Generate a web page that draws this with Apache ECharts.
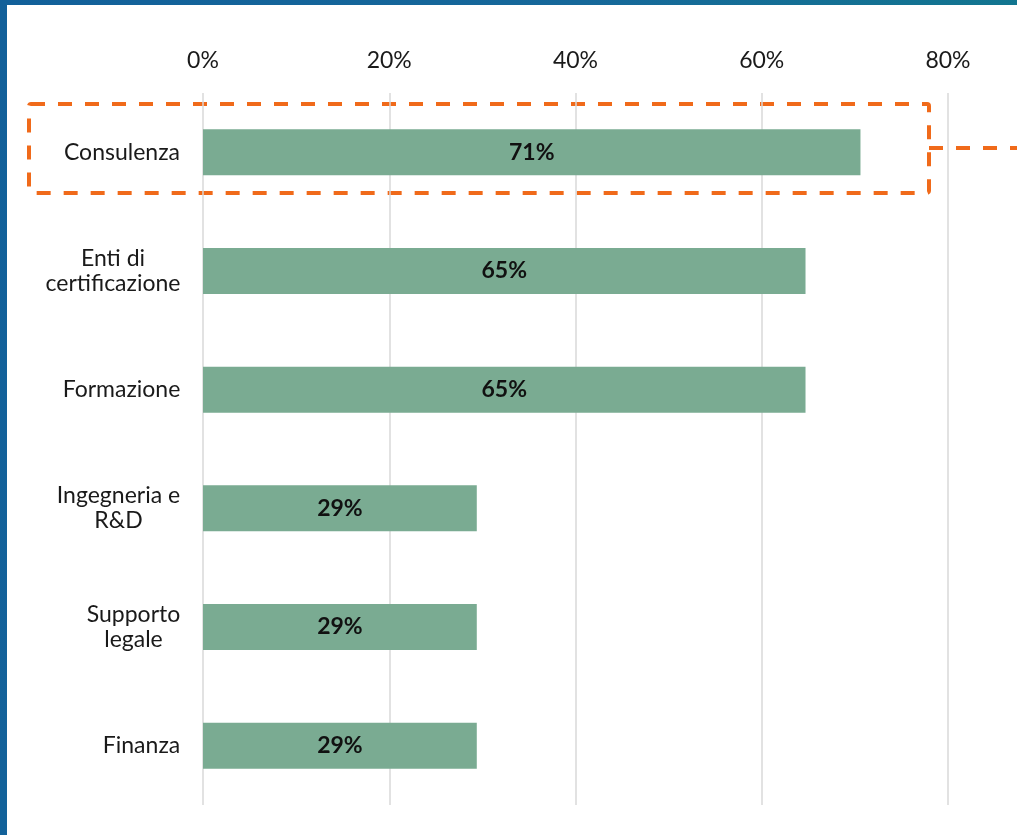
<!DOCTYPE html>
<html>
<head>
<meta charset="utf-8">
<style>
  html, body { margin: 0; padding: 0; width: 1017px; height: 835px; overflow: hidden; }
  body { background: linear-gradient(100deg, #12609a 0%, #16689a 50%, #117a8c 100%); position: relative; }
  #panel { position: absolute; left: 7px; top: 5px; width: 1010px; height: 830px; background: #fff; }
  #chart { position: absolute; left: 0; top: 0; width: 1017px; height: 835px; }
</style>
</head>
<body>
<div id="panel"></div>
<div id="chart"></div>
<script src="https://cdn.jsdelivr.net/npm/echarts@6/dist/echarts.min.js"></script>
<script>
const categories = ['Consulenza', 'Enti di\ncertificazione', 'Formazione', 'Ingegneria e\nR&D', 'Supporto\nlegale', 'Finanza']
const values = [70.6, 64.7, 64.7, 29.4, 29.4, 29.4]
const tickMax = 80
const tickStep = 20

const font = 'Lato, "Open Sans", sans-serif'
const fontSize = 23

// multi-line labels: block right-aligned, lines centred inside it (like the original)
const ctx = document.createElement('canvas').getContext('2d')
ctx.font = fontSize + 'px ' + font
const rich = {}
categories.forEach((c, i) => {
  const w = Math.max(...c.split('\n').map(l => ctx.measureText(l).width))
  rich['l' + i] = { width: Math.ceil(w) + 1, align: 'center', fontSize: fontSize, fontFamily: font, color: '#1a1a1a', lineHeight: 25 }
})

const chart = echarts.init(document.getElementById('chart'))

chart.setOption({
  backgroundColor: 'transparent',
  animation: false,
  grid: {
    left: 203,
    right: 69,
    top: 93,
    bottom: 30
  },
  xAxis: {
    type: 'value',
    position: 'top',
    min: 0,
    max: tickMax,
    interval: tickStep,
    axisLine: { show: false },
    axisTick: { show: false },
    axisLabel: {
      formatter: '{value}%',
      color: '#1a1a1a',
      fontSize: fontSize,
      fontFamily: font,
      margin: 21
    },
    splitLine: { lineStyle: { color: '#d9d9d9', width: 1.5 } }
  },
  yAxis: {
    type: 'category',
    inverse: true,
    data: categories,
    axisLine: { show: false },
    axisTick: { show: false },
    axisLabel: {
      color: '#1a1a1a',
      fontSize: fontSize,
      fontFamily: font,
      lineHeight: 25,
      align: 'right',
      margin: 22,
      rich: rich,
      formatter: (v, i) => v.split('\n').map(l => '{l' + i + '|' + l + '}').join('\n')
    }
  },
  series: [{
    type: 'bar',
    data: values,
    barWidth: 46,
    itemStyle: { color: '#7aab92' },
    label: {
      show: true,
      position: 'inside',
      color: '#111',
      fontSize: fontSize,
      fontWeight: 'bold',
      fontFamily: font,
      formatter: p => Math.round(p.value) + '%'
    }
  }],
  graphic: [{
    type: 'rect',
    shape: { x: 29, y: 104, width: 900, height: 89, r: 2 },
    style: { fill: 'none', stroke: '#f06a1a', lineWidth: 4, lineDash: [14, 13] },
    silent: true
  }, {
    type: 'line',
    shape: { x1: 929, y1: 148, x2: 1017, y2: 148 },
    style: { stroke: '#f06a1a', lineWidth: 4, lineDash: [14, 13] },
    silent: true
  }]
})
</script>
</body>
</html>
